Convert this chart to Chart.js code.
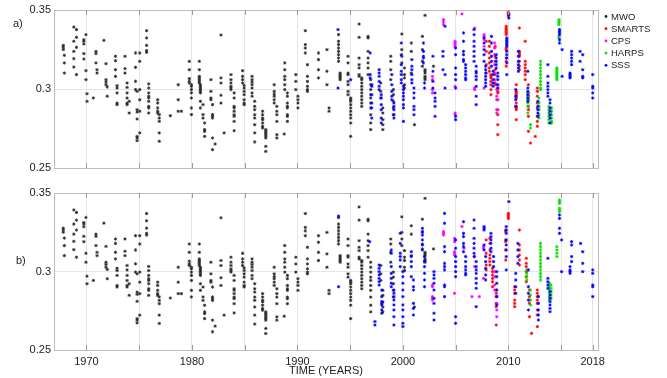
<!DOCTYPE html>
<html>
<head>
<meta charset="utf-8">
<script src="https://cdn.jsdelivr.net/npm/chart.js@4.4.1/dist/chart.umd.min.js"></script>
<style>
  html, body { margin: 0; padding: 0; background: #ffffff; }
  #wrap { position: relative; width: 667px; height: 378px; overflow: hidden; }
  canvas { position: absolute; left: 0; }
  #cA { top: 0; }
  #cB { top: 180px; }
</style>
</head>
<body>
<div id="wrap">
  <canvas id="cA" width="667" height="180"></canvas>
  <canvas id="cB" width="667" height="198"></canvas>
</div>
<script>
// Each season entry: [epoch (decimal year), S-index values observed at that epoch...]

// Mount Wilson Observatory (same in both panels)
const MWO = [
  [1967.8, 0.3276, 0.3264, 0.3250], [1967.9, 0.3213, 0.3165, 0.3101],
  [1968.8, 0.3392, 0.3302, 0.3238, 0.3192, 0.3139], [1969.05, 0.3376, 0.3327, 0.3264, 0.3091],
  [1969.75, 0.3312, 0.3302, 0.3285, 0.3224, 0.3190], [1969.95, 0.3344, 0.3116, 0.3059], [1970.05, 0.2970, 0.2922],
  [1970.65, 0.2943],
  [1970.9, 0.3238, 0.3224, 0.3165], [1971.0, 0.3122, 0.3101],
  [1971.65, 0.3308],
  [1971.85, 0.3160, 0.3059, 0.3044, 0.3027], [1971.97, 0.3013, 0.2954],
  [1972.75, 0.3207, 0.3179, 0.3122, 0.3080], [1972.9, 0.3021, 0.3006, 0.2975, 0.2911, 0.2901],
  [1973.65, 0.3207, 0.3129, 0.3101], [1973.85, 0.3038, 0.3010, 0.2975, 0.2943, 0.2911, 0.2901],
  [1974.05, 0.2922, 0.2848],
  [1974.65, 0.3228, 0.3137, 0.3049, 0.2996], [1974.8, 0.2985, 0.2869, 0.2854, 0.2810, 0.2700, 0.2690, 0.2673],
  [1975.05, 0.3228, 0.3175, 0.2996, 0.2932, 0.2859, 0.2722],
  [1975.7, 0.3369, 0.3323, 0.3276, 0.3243, 0.3232],
  [1975.9, 0.3032, 0.3006, 0.2975, 0.2954, 0.2943, 0.2922, 0.2890, 0.2880, 0.2848],
  [1976.75, 0.2932, 0.2911, 0.2880, 0.2859, 0.2848], [1976.9, 0.2838, 0.2816, 0.2795, 0.2722, 0.2669],
  [1977.95, 0.2831],
  [1978.7, 0.3027, 0.2932, 0.2859], [1979.0, 0.2859],
  [1979.75, 0.3175, 0.3122, 0.3066, 0.3049, 0.3038], [1979.95, 0.3027, 0.3017, 0.2996, 0.2975, 0.2943, 0.2880, 0.2838],
  [1980.7, 0.3175, 0.3122, 0.3080, 0.3070, 0.3059, 0.3049, 0.3038], [1980.8, 0.3027, 0.3017, 0.3006, 0.2996, 0.2985, 0.2975, 0.2922, 0.2880],
  [1981.05, 0.2901, 0.2838, 0.2816], [1981.2, 0.2785, 0.2743, 0.2732, 0.2700],
  [1981.8, 0.3059, 0.2985, 0.2943, 0.2932], [1981.95, 0.2901, 0.2838, 0.2827, 0.2816, 0.2690, 0.2616],
  [1982.2, 0.2652],
  [1982.75, 0.3342, 0.3070, 0.3038, 0.2960, 0.2911],
  [1983.05, 0.2722],
  [1983.7, 0.3091, 0.3059, 0.3038, 0.3017, 0.3006, 0.2996], [1984.0, 0.2975, 0.2943, 0.2890, 0.2880, 0.2859, 0.2837, 0.2827, 0.2795, 0.2736],
  [1984.8, 0.3116, 0.3080, 0.3059, 0.3038], [1984.95, 0.3023, 0.3006, 0.2985, 0.2964, 0.2932, 0.2911, 0.2901],
  [1985.7, 0.3080, 0.3059, 0.3044, 0.3027, 0.3006, 0.2975, 0.2954], [1985.95, 0.2922, 0.2890, 0.2869, 0.2837, 0.2816, 0.2774, 0.2722, 0.2665],
  [1986.7, 0.2859, 0.2837, 0.2816, 0.2806, 0.2785, 0.2764, 0.2753], [1987.0, 0.2743, 0.2732, 0.2722, 0.2711, 0.2701, 0.2690, 0.2637, 0.2605],
  [1987.8, 0.3027, 0.2985, 0.2968, 0.2954, 0.2932, 0.2911], [1988.05, 0.2890, 0.2859, 0.2837, 0.2795, 0.2711, 0.2690],
  [1988.8, 0.3165, 0.3122, 0.3080, 0.3059, 0.3027, 0.2996], [1989.05, 0.2975, 0.2954, 0.2911, 0.2890, 0.2880, 0.2837, 0.2827, 0.2795], [1988.75, 0.2715],
  [1989.85, 0.3091, 0.3048, 0.2996], [1990.05, 0.2954, 0.2932, 0.2911, 0.2880],
  [1990.75, 0.3369, 0.3281, 0.3259, 0.3228], [1990.95, 0.3154, 0.3080, 0.3048, 0.3017, 0.2996, 0.2985],
  [1992.0, 0.3228, 0.3186, 0.3122, 0.3070],
  [1992.8, 0.3249, 0.3112, 0.3027], [1993.0, 0.2880, 0.2859],
  [1993.9, 0.3344, 0.3302, 0.3281, 0.3259, 0.3238, 0.3217, 0.3196, 0.3175], [1994.05, 0.3101, 0.3091, 0.3080, 0.3070, 0.3059],
  [1994.8, 0.3207, 0.3165, 0.3101, 0.3091, 0.3048, 0.3027, 0.2985, 0.2964], [1995.05, 0.2943, 0.2932, 0.2922, 0.2901, 0.2880, 0.2859, 0.2837, 0.2816, 0.2785, 0.2700],
  [1995.85, 0.3411, 0.3327, 0.3196, 0.3154, 0.3133, 0.3091, 0.3080], [1996.1, 0.3070, 0.3059, 0.3038, 0.3017, 0.2996, 0.2975, 0.2954, 0.2932, 0.2911, 0.2890],
  [1996.7, 0.3333, 0.3323, 0.3238, 0.3196, 0.3165, 0.3133, 0.3091], [1996.95, 0.3059, 0.3027, 0.2996, 0.2964, 0.2943, 0.2911, 0.2880, 0.2837, 0.2785, 0.2743],
  [1997.9, 0.3038, 0.2985, 0.2943], [1998.1, 0.2880, 0.2848, 0.2806, 0.2774, 0.2743],
  [1998.85, 0.3207, 0.3175, 0.3122, 0.3059], [1999.1, 0.2996, 0.2964, 0.2922, 0.2880, 0.2837],
  [1999.9, 0.3348, 0.3249, 0.3207, 0.3165], [2000.15, 0.3133, 0.3091, 0.3070, 0.3027, 0.3006],
  [2000.8, 0.3291, 0.3238, 0.3101], [2001.1, 0.2774],
  [2001.85, 0.3333, 0.3249, 0.3175, 0.3144], [2002.1, 0.3466, 0.3122, 0.3112, 0.3101, 0.3080, 0.3070, 0.3059],
  [2002.9, 0.3144]
];

// Panel a: instruments as published
const SMARTS_A = [
  [2007.9, 0.3302, 0.3238, 0.3154, 0.3101],
  [2008.2, 0.3302, 0.3270, 0.3228, 0.3196, 0.3165, 0.3133, 0.3112], [2008.35, 0.3091, 0.3080, 0.3070, 0.3048, 0.3027, 0.2996, 0.2964],
  [2008.75, 0.3270, 0.3207, 0.3175, 0.3122, 0.3091, 0.3038, 0.3027], [2009.0, 0.3006, 0.2985, 0.2975, 0.2932, 0.2869, 0.2837, 0.2774, 0.2711],
  [2010.0, 0.3492, 0.3481, 0.3470, 0.3460], [2009.8, 0.3397, 0.3386, 0.3376, 0.3365, 0.3355, 0.3344, 0.3259, 0.3249, 0.3196, 0.3175, 0.3144],
  [2011.05, 0.3386, 0.3238, 0.3228, 0.3217, 0.3207, 0.3175, 0.3144, 0.3122], [2010.75, 0.3027, 0.2985, 0.2975, 0.2964, 0.2954, 0.2943, 0.2911, 0.2890, 0.2880, 0.2869, 0.2806],
  [2011.6, 0.3302, 0.3175, 0.3154, 0.3133, 0.3112, 0.3091, 0.3059], [2011.9, 0.3027, 0.2975, 0.2954, 0.2932, 0.2890, 0.2869, 0.2827, 0.2732], [2012.1, 0.2658],
  [2012.75, 0.3006, 0.2985, 0.2954, 0.2911, 0.2880, 0.2827, 0.2795, 0.2764], [2012.55, 0.2700]
];
const CPS_A = [
  [2002.8, 0.3080, 0.3059, 0.2996, 0.2975],
  [2003.85, 0.3439, 0.3424, 0.3407],
  [2004.95, 0.3302, 0.3291, 0.3281, 0.3270, 0.3017, 0.2848, 0.2837],
  [2005.6, 0.3475],
  [2006.8, 0.3386, 0.3006, 0.2996],
  [2007.7, 0.3344, 0.3333, 0.3312, 0.3270, 0.3006],
  [2008.7, 0.3291, 0.3259, 0.3217, 0.3154, 0.3101, 0.3059], [2008.9, 0.3027, 0.2996, 0.2954, 0.2932, 0.2869, 0.2848]
];
const HARPS_A = [
  [2011.85, 0.2975, 0.2954, 0.2932, 0.2911, 0.2890, 0.2848], [2012.1, 0.2774, 0.2753],
  [2013.05, 0.3175, 0.3154, 0.3133, 0.3112, 0.3091, 0.3070, 0.3048, 0.3027, 0.3006, 0.2996],
  [2012.9, 0.2943, 0.2911, 0.2890, 0.2869, 0.2837, 0.2816],
  [2013.85, 0.2890, 0.2869, 0.2848, 0.2827, 0.2806, 0.2785], [2014.1, 0.2880, 0.2859, 0.2837, 0.2816, 0.2795, 0.2785],
  [2014.6, 0.3133, 0.3122, 0.3112, 0.3101, 0.3091, 0.3080, 0.3070, 0.3059],
  [2014.8, 0.3439, 0.3428, 0.3418, 0.3407, 0.3333, 0.3323]
];
const SSS_A = [
  [1993.85, 0.3376, 0.3006], [1995.05, 0.3059],
  [1996.9, 0.3228, 0.3091, 0.3070], [1997.05, 0.3027, 0.3017, 0.2964, 0.2911, 0.2880, 0.2816],
  [1997.75, 0.3122, 0.3101, 0.3080, 0.3048, 0.3017, 0.2996], [1997.95, 0.2964, 0.2943, 0.2901, 0.2869, 0.2816, 0.2785],
  [1998.95, 0.3091, 0.3027, 0.2985, 0.2954, 0.2932], [1999.15, 0.2911, 0.2890, 0.2869, 0.2837, 0.2816],
  [1999.85, 0.3291, 0.3217, 0.3154, 0.3112, 0.3091, 0.3059, 0.3038], [2000.05, 0.3017, 0.2996, 0.2975, 0.2954, 0.2932, 0.2901, 0.2880, 0.2795],
  [2000.85, 0.3186, 0.3144, 0.3122, 0.3091, 0.3059, 0.3038], [2001.05, 0.3006, 0.2975, 0.2943, 0.2890, 0.2869, 0.2837],
  [2001.95, 0.3291, 0.3238, 0.3207, 0.3196, 0.3165], [2002.05, 0.3038, 0.3006],
  [2002.85, 0.3207, 0.3112, 0.3048, 0.3006], [2003.05, 0.2975, 0.2943, 0.2922, 0.2890, 0.2827],
  [2003.8, 0.3238, 0.3207, 0.3122], [2004.0, 0.3397, 0.3091, 0.3006],
  [2005.0, 0.3259, 0.3217, 0.3133, 0.3091, 0.3059, 0.3006, 0.2827, 0.2806],
  [2005.75, 0.3355, 0.3302, 0.3238, 0.3217, 0.3186, 0.3175], [2005.95, 0.3154, 0.3133, 0.3112, 0.3091, 0.3070, 0.3059],
  [2006.75, 0.3376, 0.3344, 0.3302, 0.3270, 0.3238, 0.3207, 0.3175], [2006.95, 0.3144, 0.3112, 0.3101, 0.3080, 0.3059, 0.3017, 0.2954, 0.2901],
  [2007.7, 0.3323, 0.3291, 0.3249, 0.3217, 0.3175], [2007.85, 0.3144, 0.3122, 0.3101, 0.3080, 0.3059, 0.3038, 0.3017],
  [2008.4, 0.3333, 0.3291, 0.3238, 0.3207, 0.3175, 0.3144], [2008.55, 0.3112, 0.3091, 0.3059, 0.3038, 0.3017],
  [2008.85, 0.3217, 0.3196, 0.3175, 0.3154, 0.3133], [2009.0, 0.3101, 0.3080, 0.3059, 0.3027, 0.3006],
  [2010.05, 0.3470, 0.3449], [2009.85, 0.3323, 0.3312, 0.3302, 0.3291, 0.3281, 0.3270, 0.3238, 0.3217, 0.3196, 0.3165, 0.3091],
  [2010.95, 0.3238, 0.3207, 0.3175, 0.3154, 0.3133, 0.3112], [2010.7, 0.2996, 0.2954, 0.2932, 0.2890],
  [2011.85, 0.3112, 0.3006, 0.2985, 0.2964, 0.2943, 0.2922],
  [2012.8, 0.2922, 0.2890, 0.2869, 0.2848, 0.2827],
  [2013.75, 0.3154, 0.3080, 0.3038, 0.3017, 0.2996, 0.2975, 0.2954], [2013.95, 0.2932, 0.2911, 0.2880, 0.2859, 0.2837, 0.2816, 0.2785],
  [2014.85, 0.3376, 0.3365, 0.3355, 0.3344, 0.3312, 0.3291], [2015.1, 0.3249, 0.3080],
  [2016.0, 0.3238, 0.3217, 0.3196, 0.3175, 0.3154], [2015.85, 0.3101, 0.3091, 0.3080, 0.3070],
  [2016.8, 0.3238, 0.3175], [2017.05, 0.3217, 0.3122, 0.3080, 0.3070],
  [2018.0, 0.3091, 0.3017, 0.3006, 0.2975, 0.2943]
];

// Panel b: instruments after recalibration
const SMARTS_B = [
  [2007.9, 0.3201, 0.3116, 0.3041, 0.3010],
  [2008.25, 0.3211, 0.3179, 0.3137, 0.3105, 0.3084, 0.3063, 0.3041], [2008.5, 0.3020, 0.2999, 0.2978, 0.2956, 0.2935, 0.2903],
  [2008.85, 0.2882, 0.2861, 0.2840, 0.2797, 0.2776, 0.2659],
  [2010.0, 0.3370, 0.3360, 0.3349, 0.3338], [2009.75, 0.3264, 0.3254, 0.3201, 0.3190, 0.3137, 0.3073],
  [2011.05, 0.3264, 0.3169, 0.3137, 0.3105, 0.3073, 0.3041], [2010.6, 0.2903, 0.2882, 0.2861, 0.2818, 0.2797, 0.2776],
  [2011.7, 0.3084, 0.3052, 0.3031, 0.2999, 0.2967, 0.2935], [2012.0, 0.2882, 0.2840, 0.2797, 0.2712], [2012.2, 0.2606],
  [2012.75, 0.2882, 0.2861, 0.2840, 0.2818, 0.2797, 0.2755, 0.2723, 0.2649]
];
const CPS_B = [
  [2002.8, 0.2914, 0.2903, 0.2840, 0.2829, 0.2818],
  [2003.85, 0.3254, 0.3243, 0.3232],
  [2004.9, 0.3211, 0.3190, 0.3126, 0.3116, 0.3105, 0.2861],
  [2005.6, 0.3286], [2005.8, 0.3148],
  [2006.8, 0.3095, 0.3031], [2006.55, 0.2840],
  [2007.65, 0.3158, 0.3148, 0.2956], [2007.25, 0.2840],
  [2008.7, 0.2999, 0.2967, 0.2914, 0.2882], [2008.9, 0.2840, 0.2797, 0.2755, 0.2712]
];
const HARPS_B = [
  [2011.75, 0.3010, 0.2988, 0.2967, 0.2946], [2012.1, 0.2882, 0.2850, 0.2818, 0.2787],
  [2013.05, 0.3179, 0.3158, 0.3137, 0.3116, 0.3095, 0.3073, 0.3052, 0.3031, 0.3010, 0.2988, 0.2967, 0.2946],
  [2013.9, 0.2925, 0.2903, 0.2882, 0.2861, 0.2840, 0.2818], [2014.05, 0.2914, 0.2893, 0.2872, 0.2850, 0.2829],
  [2014.85, 0.3455, 0.3445, 0.3434, 0.3402, 0.3392, 0.3381], [2014.6, 0.3158, 0.3137, 0.3116, 0.3095]
];
const SSS_B = [
  [1993.9, 0.3353, 0.2903],
  [1996.85, 0.3190],
  [1997.75, 0.3041, 0.3020, 0.2999, 0.2978, 0.2956, 0.2935, 0.2914], [1998.0, 0.2882, 0.2840, 0.2808, 0.2797, 0.2787, 0.2755, 0.2734], [1997.35, 0.2681, 0.2659],
  [1998.9, 0.3137, 0.3116, 0.3031, 0.2988, 0.2956, 0.2925, 0.2903], [1999.15, 0.2882, 0.2861, 0.2840, 0.2818, 0.2787, 0.2755, 0.2712, 0.2659],
  [1999.75, 0.3243, 0.3179, 0.3116, 0.3095, 0.3073, 0.3031], [2000.0, 0.2999, 0.2967, 0.2925, 0.2882, 0.2840, 0.2787, 0.2755, 0.2712, 0.2670, 0.2649],
  [2000.8, 0.3126, 0.3095, 0.3063, 0.3031, 0.2967], [2001.0, 0.2946, 0.2903, 0.2882, 0.2797, 0.2765, 0.2723],
  [2001.85, 0.3275, 0.3254, 0.3232, 0.3201, 0.3169, 0.3137], [2002.05, 0.3095, 0.3063, 0.3031, 0.2988, 0.2946, 0.2903],
  [2002.95, 0.2999, 0.2978, 0.2956, 0.2925, 0.2882, 0.2829, 0.2797, 0.2734, 0.2691],
  [2003.95, 0.3370, 0.3307, 0.3158, 0.3126, 0.3052, 0.3031, 0.3010, 0.2914, 0.2903, 0.2840],
  [2005.0, 0.3201, 0.3148, 0.3095, 0.3063, 0.3031, 0.2999, 0.2967, 0.2712, 0.2670],
  [2005.75, 0.3317, 0.3243, 0.3222, 0.3179, 0.3158, 0.3126], [2005.95, 0.3095, 0.3063, 0.3031, 0.3010, 0.2988, 0.2978],
  [2006.75, 0.3328, 0.3275, 0.3211, 0.3179, 0.3148, 0.3116, 0.3095], [2006.95, 0.3063, 0.3031, 0.3010, 0.2988, 0.2956, 0.2925, 0.2893, 0.2776],
  [2007.7, 0.3286, 0.3275, 0.3264, 0.3169, 0.3137], [2007.85, 0.3095, 0.3063, 0.3020, 0.2978, 0.2946],
  [2008.35, 0.3243, 0.3222, 0.3201, 0.3179, 0.3148, 0.3126], [2008.6, 0.3095, 0.3063, 0.3031], [2008.9, 0.2999, 0.2967, 0.2925, 0.2882, 0.2840, 0.2787],
  [2010.05, 0.3445], [2009.8, 0.3286, 0.3264, 0.3243, 0.3201, 0.3169, 0.3137, 0.3095, 0.3010],
  [2010.9, 0.3179, 0.3137, 0.3095, 0.3052], [2010.7, 0.2988, 0.2946, 0.2903, 0.2861],
  [2011.9, 0.3010, 0.2903, 0.2861, 0.2818, 0.2755],
  [2012.85, 0.2840, 0.2797, 0.2755, 0.2723, 0.2691],
  [2013.75, 0.3084, 0.2956, 0.2935, 0.2914, 0.2893], [2013.95, 0.2872, 0.2850, 0.2829, 0.2808, 0.2787, 0.2765, 0.2744],
  [2014.85, 0.3360, 0.3338, 0.3275, 0.3243], [2015.05, 0.3201, 0.2999],
  [2016.0, 0.3190, 0.3169, 0.3095, 0.3063], [2015.85, 0.3031, 0.3010, 0.2999, 0.2988],
  [2016.85, 0.3179], [2017.05, 0.3126, 0.3052, 0.2999],
  [2018.0, 0.3010, 0.2988, 0.2914, 0.2903, 0.2840]
];

const SERIES_NAMES = ['MWO', 'SMARTS', 'CPS', 'HARPS', 'SSS'];
const SERIES_COLORS = ['#2a2a2a', '#ff0000', '#ff00ff', '#00e000', '#0000ff'];
const X_GRID = [1970, 1975, 1980, 1985, 1990, 1995, 2000, 2005, 2010, 2015, 2018];
const X_LABELS = [1970, 1980, 1990, 2000, 2010, 2018];
const Y_TICKS = [0.25, 0.3, 0.35];
const Y_LABELS = ['0.25', '0.3', '0.35'];

const FONT = 'Liberation Sans, Arial, Helvetica, sans-serif';

function toPoints(seasons) {
  const pts = [];
  seasons.forEach(s => {
    for (let i = 1; i < s.length; i++) pts.push({ x: s[0], y: s[i] });
  });
  return pts;
}

function makeDatasets(groups) {
  return groups.map((g, i) => ({
    label: SERIES_NAMES[i],
    data: toPoints(g),
    showLine: false,
    pointStyle: 'star',
    pointRadius: 1.6,
    pointBorderWidth: 0.9,
    pointBorderColor: SERIES_COLORS[i],
    pointBackgroundColor: SERIES_COLORS[i],
    order: 5 - i
  }));
}

// box round the plot area, inward ticks and the panel letter
const frame = {
  id: 'frame',
  afterDraw(chart, args, opts) {
    const { ctx, chartArea: a, scales } = chart;
    ctx.save();
    ctx.strokeStyle = '#bcbcbc';
    ctx.lineWidth = 1;
    ctx.strokeRect(Math.round(a.left) + 0.5, Math.round(a.top) + 0.5,
                   Math.round(a.right - a.left), Math.round(a.bottom - a.top));
    ctx.strokeStyle = '#9a9a9a';
    X_GRID.forEach(v => {
      const x = Math.round(scales.x.getPixelForValue(v)) + 0.5;
      ctx.beginPath();
      ctx.moveTo(x, a.bottom); ctx.lineTo(x, a.bottom - 5);
      ctx.moveTo(x, a.top); ctx.lineTo(x, a.top + 5);
      ctx.stroke();
    });
    ctx.fillStyle = '#222';
    ctx.font = '11px ' + FONT;
    ctx.textBaseline = 'middle';
    ctx.textAlign = 'left';
    ctx.fillText(opts.letter, opts.lx, opts.ly);
    ctx.restore();
  }
};

// series key to the right of the top panel
const keyBox = {
  id: 'keyBox',
  afterDraw(chart, args, opts) {
    if (!opts.show) return;
    const { ctx } = chart;
    ctx.save();
    ctx.font = '9.5px ' + FONT;
    ctx.textBaseline = 'middle';
    ctx.textAlign = 'left';
    chart.data.datasets.forEach((ds, i) => {
      const y = opts.y0 + i * opts.dy;
      ctx.fillStyle = ds.pointBorderColor;
      ctx.beginPath();
      ctx.arc(opts.x0, y, 1.4, 0, Math.PI * 2);
      ctx.fill();
      ctx.fillStyle = '#222';
      ctx.fillText(ds.label, opts.x0 + 5, y + 0.5);
    });
    ctx.restore();
  }
};

function makeChart(canvasId, groups, isBottom) {
  return new Chart(document.getElementById(canvasId), {
    type: 'scatter',
    data: { datasets: makeDatasets(groups) },
    plugins: [frame, keyBox],
    options: {
      responsive: false,
      animation: false,
      devicePixelRatio: 1,
      layout: { padding: { top: isBottom ? 13 : 10, right: 69, left: 0, bottom: 0 } },
      plugins: {
        legend: { display: false },
        tooltip: { enabled: false },
        frame: isBottom ? { letter: 'b)', lx: 16, ly: 81 } : { letter: 'a)', lx: 13, ly: 24 },
        keyBox: { show: !isBottom, x0: 606, y0: 16.5, dy: 12.2 }
      },
      scales: {
        x: {
          type: 'linear',
          min: 1966.92,
          max: 2018.5,
          afterBuildTicks: s => { s.ticks = X_GRID.map(v => ({ value: v })); },
          afterFit: s => { s.height = isBottom ? 28 : 12; },
          grid: { color: '#e6e6e6', lineWidth: 1, drawTicks: false },
          border: { display: false },
          ticks: {
            display: isBottom,
            autoSkip: false,
            maxRotation: 0,
            padding: 5,
            color: '#222',
            font: { size: 11, family: FONT },
            callback: v => (X_LABELS.includes(v) ? String(v) : '')
          },
          title: {
            display: isBottom,
            text: 'TIME (YEARS)',
            color: '#222',
            font: { size: 11, family: FONT },
            padding: { top: 0, bottom: 0 }
          }
        },
        y: {
          type: 'linear',
          min: 0.25,
          max: 0.35,
          afterBuildTicks: s => { s.ticks = Y_TICKS.map(v => ({ value: v })); },
          afterFit: s => { s.width = 54; },
          grid: { color: '#e6e6e6', lineWidth: 1, drawTicks: false },
          border: { display: false },
          ticks: {
            padding: 3,
            color: '#222',
            font: { size: 11, family: FONT },
            callback: (v, i) => Y_LABELS[Y_TICKS.indexOf(v)]
          }
        }
      }
    }
  });
}

makeChart('cA', [MWO, SMARTS_A, CPS_A, HARPS_A, SSS_A], false);
makeChart('cB', [MWO, SMARTS_B, CPS_B, HARPS_B, SSS_B], true);
</script>
</body>
</html>
